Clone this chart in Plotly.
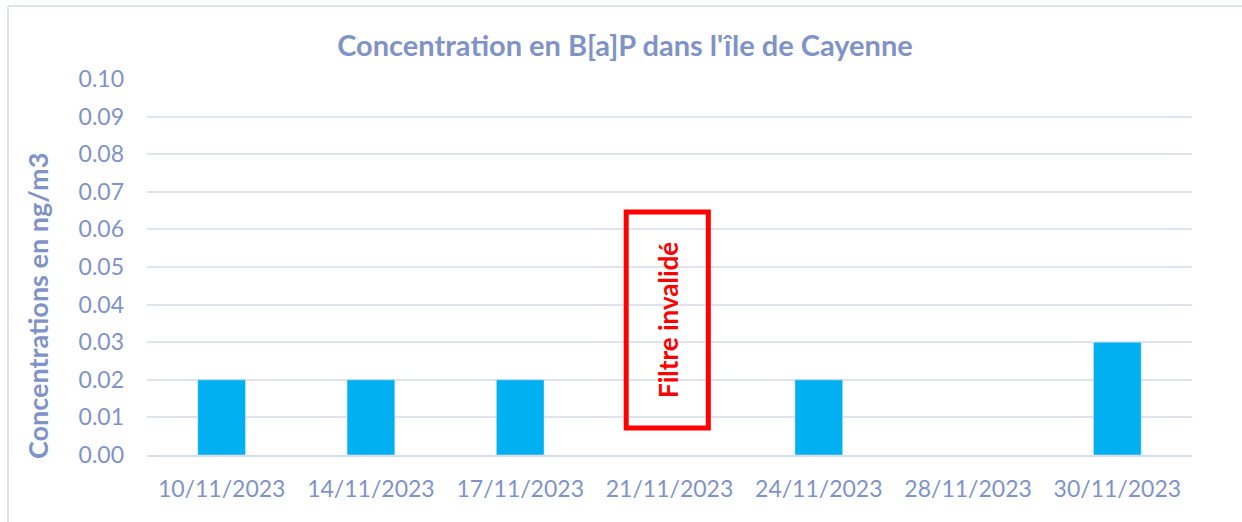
import plotly.graph_objects as go

dates = ["10/11/2023", "14/11/2023", "17/11/2023", "21/11/2023", "24/11/2023", "28/11/2023", "30/11/2023"]
values = [0.02, 0.02, 0.02, None, 0.02, None, 0.03]
y_ticks = [0.00, 0.01, 0.02, 0.03, 0.04, 0.05, 0.06, 0.07, 0.08, 0.09, 0.10]
title = "Concentration en B[a]P dans l'île de Cayenne"
y_title = "Concentrations en ng/m3"
note = "Filtre invalidé"

W, H = 1242, 522
ml, mr, mt, mb = 147, 50, 79, 67
pw, ph = W - ml - mr, H - mt - mb
txt = "#7f93c8"
font = "Lato, 'Open Sans', sans-serif"

def px_x(p):
    return (p - ml) / pw

def px_y(p):
    return (mt + ph - p) / ph

fig = go.Figure()
fig.add_trace(go.Bar(x=dates, y=values, marker_color="#00b0f0", width=0.32))

fig.add_shape(type="rect", xref="x", yref="y", x0=2.71, x1=3.26, y0=0.0072, y1=0.0646,
              line=dict(color="#ff0000", width=5), fillcolor="rgba(0,0,0,0)")
fig.add_annotation(x=2.99, y=0.0359, xref="x", yref="y", text="<b>" + note + "</b>", textangle=-90,
                   showarrow=False, font=dict(color="#ff0000", size=26, family=font))

# y-axis title (placed like the original, slightly below centre)
fig.add_annotation(x=px_x(37), y=px_y(306), xref="paper", yref="paper", text="<b>" + y_title + "</b>",
                   textangle=-90, showarrow=False, xanchor="center", yanchor="middle",
                   font=dict(color=txt, size=27, family=font))

# outer chart border
fig.add_shape(type="line", xref="paper", yref="paper", x0=px_x(8), x1=px_x(1242), y0=px_y(6), y1=px_y(6),
              line=dict(color="#dfe3f0", width=2))
fig.add_shape(type="line", xref="paper", yref="paper", x0=px_x(8), x1=px_x(8), y0=px_y(6), y1=px_y(522),
              line=dict(color="#dfe3f0", width=2))

fig.update_layout(
    width=W, height=H,
    margin=dict(l=ml, r=mr, t=mt, b=mb),
    paper_bgcolor="white", plot_bgcolor="white",
    showlegend=False,
    title=dict(text="<b>" + title + "</b>", x=625 / W, xanchor="center", xref="container", y=1 - 46 / H,
               yanchor="middle", yref="container",
               font=dict(size=29, color=txt, family=font)),
    font=dict(family=font, color=txt),
)
fig.update_xaxes(type="category", categoryorder="array", categoryarray=dates,
                 tickfont=dict(size=23, color=txt), ticklabelstandoff=12,
                 showline=True, linecolor="#d9dcea", linewidth=2, showgrid=False, ticks="")
fig.update_yaxes(range=[0, 0.10], tickvals=y_ticks, tickformat=".2f",
                 tickfont=dict(size=23, color=txt), ticklabelstandoff=22,
                 showgrid=True, gridcolor="#e0e3ef", gridwidth=1.5, zeroline=False,
                 showline=False, ticks="")

fig.write_html("out.html", config={"displayModeBar": False},
               post_script="document.body.style.margin='0';document.body.style.overflow='hidden';")
